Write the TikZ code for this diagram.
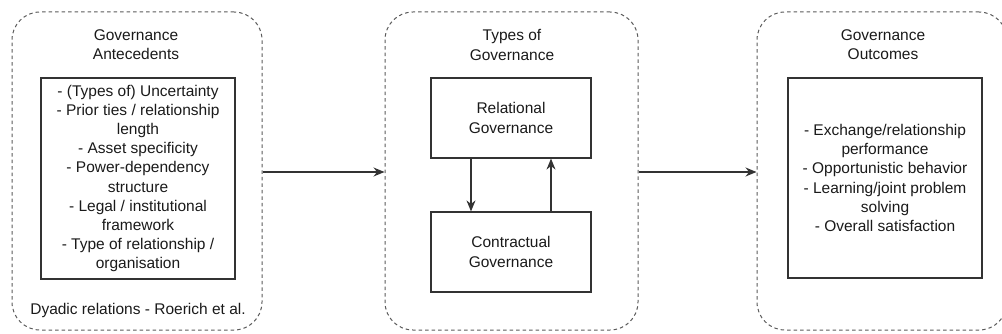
\documentclass[tikz,border=0pt]{standalone}
\usepackage{fontspec}
\setmainfont{Liberation Sans}
\usetikzlibrary{arrows.meta,positioning}
\definecolor{GVline}{HTML}{333333}
\definecolor{GVdash}{HTML}{5A5A5A}
\definecolor{GVtext}{HTML}{1A1A1A}
\newcommand{\gvfont}{\fontsize{15.5}{19.2}\selectfont}
\tikzset{
  gvgroup/.style={draw=GVdash, dash pattern=on 3.5pt off 3pt, line width=1pt,
    rounded corners=28pt, minimum width=250pt, minimum height=318pt},
  gvbox/.style={draw=GVline, line width=1.2pt, align=center, text=GVtext,
    font=\gvfont, inner sep=0pt},
  gvlabel/.style={align=center, text=GVtext, font=\gvfont, inner sep=0pt},
  gvarrow/.style={draw=GVline, line width=1.2pt, -{Stealth[length=11pt,width=9pt]}}
}

\begin{document}
\begin{tikzpicture}[x=1pt, y=-1pt]
\useasboundingbox (0,0) rectangle (1002,334);

% ====================================================================
%
%         Gruppen
%
% ====================================================================

  % Antecedents links
  \node[gvgroup] (antegroup) at (137,171) {};
  % Typen mitte
  \node[gvgroup, minimum width=253pt] (typegroup) at (511.5,171) {};
  % Outcomes rechts
  \node[gvgroup] (outgroup) at (882,171) {};

% ====================================================================
%
%         Titel
%
% ====================================================================

  \node[gvlabel] (antetitle) at (136,45) {Governance\\Antecedents};
  \node[gvlabel] (typetitle) at (512,45) {Types of\\Governance};
  \node[gvlabel] (outtitle) at (883,45) {Governance\\Outcomes};
  \node[gvlabel] (antesource) at (138,310) {Dyadic relations - Roerich et al.};

% ====================================================================
%
%         Kaesten
%
% ====================================================================

  % Antecedents
  \node[gvbox, minimum width=194pt, minimum height=201pt] (antelist) at (138,178.5)
    {- (Types of) Uncertainty\\- Prior ties / relationship\\length\\- Asset specificity\\%
     - Power-dependency\\structure\\- Legal / institutional\\framework\\%
     - Type of relationship /\\organisation};

  % Governance types
  \node[gvbox, minimum width=160pt, minimum height=80pt] (relational) at (511,118)
    {Relational\\Governance};
  \node[gvbox, minimum width=160pt, minimum height=80pt] (contractual) at (511,252)
    {Contractual\\Governance};

  % Outcomes
  \node[gvbox, minimum width=194pt, minimum height=200pt] (outlist) at (885,178)
    {- Exchange/relationship\\performance\\- Opportunistic behavior\\%
     - Learning/joint problem\\solving\\- Overall satisfaction};

% ====================================================================
%
%         Pfeile
%
% ====================================================================

  \draw[gvarrow] (antegroup.east |- 0,172) -- (typegroup.west |- 0,172);
  \draw[gvarrow] (typegroup.east |- 0,172) -- (outgroup.west |- 0,172);

  % Relational <-> Contractual
  \draw[gvarrow] ([xshift=-40pt]relational.south) -- ([xshift=-40pt]contractual.north);
  \draw[gvarrow] ([xshift=40pt]contractual.north) -- ([xshift=40pt]relational.south);

\end{tikzpicture}
\end{document}
